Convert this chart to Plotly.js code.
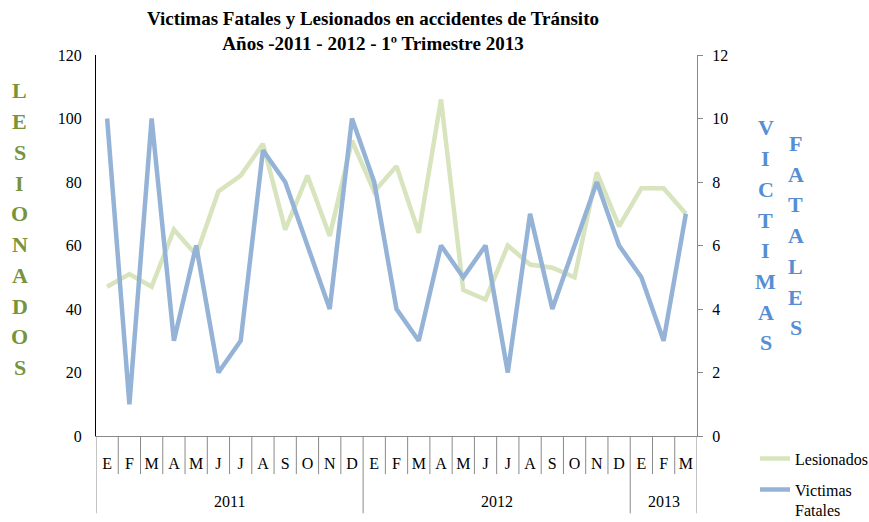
<!DOCTYPE html>
<html>
<head>
<meta charset="utf-8">
<script src="https://cdn.plot.ly/plotly-3.0.1.min.js"></script>
<style>html,body{margin:0;padding:0;background:#fff}#chart{width:869px;height:522px}</style>
</head>
<body>
<div id="chart"></div>
<script>
// ---- data ----
const months = ["E","F","M","A","M","J","J","A","S","O","N","D",
                "E","F","M","A","M","J","J","A","S","O","N","D",
                "E","F","M"];
const years = ["2011","2012","2013"];
const monthsPerYear = [12, 12, 3];
const lesionados = [47,51,47,65,57,77,82,92,65,82,63,93,
                    77,85,64,106,46,43,60,54,53,50,83,66,
                    78,78,70];
const victimas = [10,1,10,3,6,2,3,9,8,6,4,10,
                  8,4,3,6,5,6,2,7,4,6,8,6,
                  5,3,7];
const leftLabel = "LESIONADOS";
const rightLabel1 = "VICTIMAS";
const rightLabel2 = "FATALES";

// ---- derived ----
const idx = months.map((_, i) => i);
const boundaries = months.map((_, i) => i - 0.5).concat([months.length - 0.5]);
const yearBounds = [-0.5];
const yearCenters = [];
let acc = 0;
monthsPerYear.forEach(n => { yearCenters.push(acc + (n - 1) / 2); acc += n; yearBounds.push(acc - 0.5); });

const serif = "Liberation Serif, Times New Roman, serif";
const gray = "#898989";
const xr = [-0.5, months.length - 0.5];

const traces = [
  {x: idx, y: lesionados, name: "Lesionados", type: "scatter", mode: "lines",
   line: {color: "#D7E4BD", width: 4.5}, xaxis: "x", yaxis: "y", legendgroup: "a"},
  {x: idx, y: victimas, name: "Victimas<br>Fatales", type: "scatter", mode: "lines",
   line: {color: "#95B3D7", width: 4.5}, xaxis: "x", yaxis: "y2", legendgroup: "b"}
];

// category separators below the x axis (month ticks and year dividers)
const shapes = [];
boundaries.forEach(b => {
  if (yearBounds.indexOf(b) >= 0) return;
  shapes.push({type: "line", xref: "x", yref: "paper", x0: b, x1: b, y0: 0, y1: -0.1,
               line: {color: gray, width: 1}});
});
yearBounds.forEach(b => shapes.push({type: "line", xref: "x", yref: "paper", x0: b, x1: b, y0: 0, y1: -0.203,
               line: {color: gray, width: 1}}));

const annotations = [];
yearCenters.forEach((c, i) => annotations.push({
  x: c, y: -0.171, xref: "x", yref: "paper", text: years[i], showarrow: false,
  font: {family: serif, size: 16, color: "#000"}, xanchor: "center", yanchor: "middle"
}));
function stack(str, xPaper, yTop, step, color) {
  str.split("").forEach((ch, i) => annotations.push({
    x: xPaper, y: yTop - i * step, xref: "paper", yref: "paper", text: "<b>" + ch + "</b>",
    showarrow: false, font: {family: serif, size: 22, color: color},
    xanchor: "center", yanchor: "middle"
  }));
}
stack(leftLabel, -0.1265, 0.9063, 0.0808, "#77933C");
stack(rightLabel1, 1.1148, 0.8084, 0.0806, "#558ED5");
stack(rightLabel2, 1.1647, 0.7683, 0.0808, "#558ED5");

const layout = {
  width: 869, height: 522,
  margin: {l: 96, r: 172, t: 55, b: 86, autoexpand: false},
  paper_bgcolor: "#fff", plot_bgcolor: "#fff",
  font: {family: serif, size: 16, color: "#000"},
  title: {text: "<b>Victimas Fatales y Lesionados en accidentes de Tránsito<br>Años -2011 - 2012 - 1º Trimestre 2013</b>",
          font: {family: serif, size: 19, color: "#000"},
          x: 373 / 869, xref: "container", xanchor: "center", y: 1 - 25 / 522, yref: "container", yanchor: "middle"},
  xaxis: {range: xr, autorange: false, tickmode: "array", tickvals: idx, ticktext: months,
          showgrid: false, zeroline: false, showline: true, linecolor: gray, linewidth: 1,
          ticks: "", ticklabelstandoff: 13, tickfont: {family: serif, size: 16, color: "#000"}},
  yaxis: {range: [0, 120], autorange: false, dtick: 20, tick0: 0, showgrid: false, zeroline: false,
          showline: true, linecolor: "#000", linewidth: 1, ticks: "", ticklabelstandoff: 10,
          tickfont: {family: serif, size: 16, color: "#000"}},
  yaxis2: {range: [0, 12], autorange: false, dtick: 2, tick0: 0, overlaying: "y", side: "right",
           showgrid: false, zeroline: false, showline: true, linecolor: gray, linewidth: 1,
           ticks: "outside", ticklen: 5, tickcolor: gray, ticklabelstandoff: 6,
           tickfont: {family: serif, size: 16, color: "#000"}},
  legend: {x: (755 - 96) / 601, xanchor: "left", y: -0.015, yanchor: "top", bgcolor: "rgba(0,0,0,0)",
           font: {family: serif, size: 16, color: "#000"}, tracegroupgap: 7, valign: "top"},
  showlegend: true,
  shapes: shapes,
  annotations: annotations
};

Plotly.newPlot("chart", traces, layout, {displayModeBar: false, staticPlot: true});
</script>
</body>
</html>
